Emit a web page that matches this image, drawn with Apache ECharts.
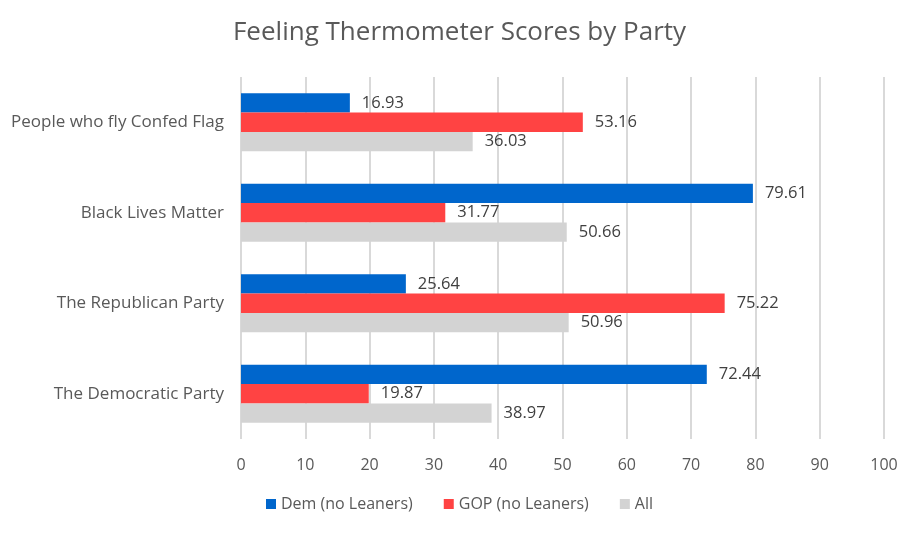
<!DOCTYPE html>
<html><head><meta charset="utf-8">
<script src="https://cdn.jsdelivr.net/npm/echarts@6/dist/echarts.min.js"></script>
<style>html,body{margin:0;padding:0;background:#fff}#c{width:919px;height:535px}</style>
</head><body><div id="c"></div>
<script>
const categories = ["People who fly Confed Flag", "Black Lives Matter", "The Republican Party", "The Democratic Party"];
const demValues = [16.93, 79.61, 25.64, 72.44];
const gopValues = [53.16, 31.77, 75.22, 19.87];
const allValues = [36.03, 50.66, 50.96, 38.97];
const seriesNames = ["Dem (no Leaners)", "GOP (no Leaners)", "All"];
const xTicks = [0, 10, 20, 30, 40, 50, 60, 70, 80, 90, 100];

const font = "'Open Sans', 'Noto Sans', sans-serif";
const chart = echarts.init(document.getElementById('c'));
const lbl = {show: true, position: 'right', color: '#404040', fontSize: 16.5, fontFamily: font, distance: 12, formatter: p => p.value.toFixed(2)};
chart.setOption({
  animation: false,
  title: {text: 'Feeling Thermometer Scores by Party', left: 'center', top: 15,
    textStyle: {color: '#595959', fontSize: 26, fontWeight: 'normal', fontFamily: font}},
  legend: {bottom: 18, itemWidth: 10, itemHeight: 10, itemGap: 31, icon: 'rect',
    textStyle: {color: '#595959', fontSize: 16, fontFamily: font}, data: seriesNames},
  grid: {left: 241, right: 35, top: 77, bottom: 96, containLabel: false},
  xAxis: {type: 'value', min: xTicks[0], max: xTicks[xTicks.length - 1], interval: 10,
    axisLine: {show: false}, axisTick: {show: false},
    axisLabel: {color: '#595959', fontSize: 16, fontFamily: font, margin: 18},
    splitLine: {lineStyle: {color: '#D9D9D9', width: 2}}},
  yAxis: {type: 'category', data: categories, inverse: true,
    axisLine: {show: false}, axisTick: {show: false},
    axisLabel: {color: '#595959', fontSize: 17, fontFamily: font, margin: 17}},
  series: [
    {name: seriesNames[0], type: 'bar', data: demValues, itemStyle: {color: '#0066CC'}, barGap: '0%', barCategoryGap: '36%', label: lbl},
    {name: seriesNames[1], type: 'bar', data: gopValues, itemStyle: {color: '#FF4343'}, label: lbl},
    {name: seriesNames[2], type: 'bar', data: allValues, itemStyle: {color: '#D3D3D3'}, label: lbl}
  ]
});
</script></body></html>
